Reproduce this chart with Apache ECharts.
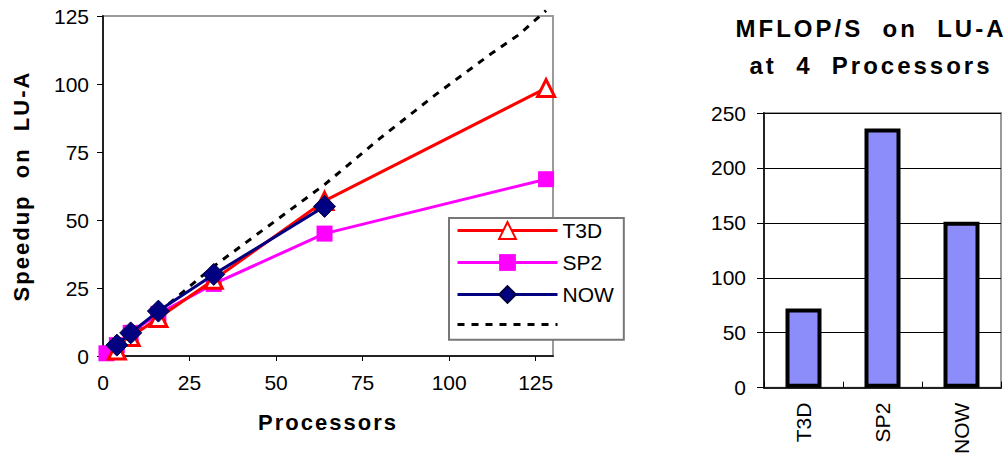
<!DOCTYPE html>
<html><head><meta charset="utf-8">
<script src="https://cdn.jsdelivr.net/npm/echarts@6/dist/echarts.min.js"></script>
<style>
html,body{margin:0;padding:0;background:#fff;}
#c{width:1008px;height:457px;}
#c text[style*="bold"]{letter-spacing:2px;}
#c text[style*="bold"][style*="24px"]{letter-spacing:3px;}
</style></head><body><div id="c"></div>
<script>
// ---- Data: Speedup on LU-A ----
const procT3D = [4, 8, 16, 32, 64, 128];
const speedT3D = [2, 7, 14, 28, 57, 98.5];
const procSP2 = [1, 4, 8, 16, 32, 64, 128];
const speedSP2 = [1, 4, 8.5, 15.5, 26.5, 45, 65];
const procNOW = [4, 8, 16, 32, 64];
const speedNOW = [4, 8.5, 16.5, 30, 55];
const procIdeal = [0, 8, 16, 32, 48, 64, 80, 96, 112, 120, 128];
const speedIdeal = [0, 8, 16, 33, 48, 63, 80, 96, 111, 118, 127];
const xTicks = [0, 25, 50, 75, 100, 125];
// ---- Data: MFLOP/S on LU-A at 4 processors ----
const machines = ['T3D', 'SP2', 'NOW'];
const mflops = [72, 236, 151];

const pairs = (xs, ys) => xs.map((x, i) => [x, ys[i]]);
const FONT = 'Liberation Sans, Arial, sans-serif';
const nb = '\u00a0';

const chart = echarts.init(document.getElementById('c'), null, {renderer: 'svg'});
chart.setOption({
  animation: false,
  backgroundColor: '#fff',
  textStyle: {fontFamily: FONT, color: '#000'},
  title: {
    text: 'MFLOP/S' + nb + ' on' + nb + ' LU-A\nat' + nb + ' 4' + nb + ' Processors',
    left: 866, top: 5, textAlign: 'center',
    textStyle: {fontFamily: FONT, fontSize: 24, fontWeight: 'bold', color: '#000', lineHeight: 37}
  },
  legend: {
    orient: 'vertical', left: 449, top: 218,
    padding: [2, 10, 7, 7],
    itemWidth: 100, itemHeight: 21, itemGap: 11,
    backgroundColor: '#fff', borderColor: '#777', borderWidth: 2, borderRadius: 0,
    data: ['T3D', 'SP2', 'NOW', {name: 'Ideal', itemStyle: {opacity: 0}}],
    formatter: n => n === 'Ideal' ? '' : n,
    textStyle: {fontFamily: FONT, fontSize: 21, color: '#000', lineHeight: 21},
    lineStyle: {width: 3},
    selectedMode: false
  },
  grid: [
    {left: 103, right: 455, top: 16, bottom: 101, show: true, borderColor: '#9a9a9a', borderWidth: 2, backgroundColor: '#fff'},
    {left: 764, right: 7, top: 113, bottom: 69, show: true, borderColor: '#9a9a9a', borderWidth: 2, backgroundColor: '#fff'}
  ],
  xAxis: [
    {
      type: 'value', gridIndex: 0, min: 0, max: 130, interval: 25,
      name: 'Processors', nameLocation: 'middle', nameGap: 55,
      nameTextStyle: {fontFamily: FONT, fontSize: 22, fontWeight: 'bold', color: '#000'},
      axisLine: {show: true, lineStyle: {color: '#222', width: 2}},
      axisTick: {show: true, length: 5, customValues: xTicks, lineStyle: {color: '#000'}},
      axisLabel: {fontFamily: FONT, fontSize: 21, color: '#000', margin: 16, customValues: xTicks},
      splitLine: {show: false}
    },
    {
      type: 'category', gridIndex: 1, data: machines,
      axisLine: {show: true, lineStyle: {color: '#222', width: 2}},
      axisTick: {show: true, inside: true, length: 6, lineStyle: {color: '#000'}},
      axisLabel: {fontFamily: FONT, fontSize: 21, color: '#000', rotate: 90, margin: 15}
    }
  ],
  yAxis: [
    {
      type: 'value', gridIndex: 0, min: 0, max: 125, interval: 25,
      name: 'Speedup' + nb + ' on' + nb + ' LU-A', nameLocation: 'middle', nameGap: 71,
      nameTextStyle: {fontFamily: FONT, fontSize: 22, fontWeight: 'bold', color: '#000'},
      axisLine: {show: true, lineStyle: {color: '#222', width: 2}},
      axisTick: {show: true, length: 6, lineStyle: {color: '#000'}},
      axisLabel: {fontFamily: FONT, fontSize: 21, color: '#000', margin: 14},
      splitLine: {show: false}
    },
    {
      type: 'value', gridIndex: 1, min: 0, max: 250, interval: 50,
      axisLine: {show: true, lineStyle: {color: '#222', width: 2}},
      axisTick: {show: true, length: 7, lineStyle: {color: '#000'}},
      axisLabel: {fontFamily: FONT, fontSize: 21, color: '#000', margin: 18},
      splitLine: {show: true, lineStyle: {color: '#000', width: 1}}
    }
  ],
  series: [
    {
      name: 'Ideal', type: 'line', xAxisIndex: 0, yAxisIndex: 0,
      data: pairs(procIdeal, speedIdeal), symbol: 'none', clip: false,
      lineStyle: {color: '#000', width: 3, type: [7, 7]},
      itemStyle: {color: '#000'}, z: 2
    },
    {
      name: 'SP2', type: 'line', xAxisIndex: 0, yAxisIndex: 0,
      data: pairs(procSP2, speedSP2), symbol: 'rect', symbolSize: 16, clip: false,
      lineStyle: {color: '#ff00ff', width: 3},
      itemStyle: {color: '#ff00ff'}, z: 3
    },
    {
      name: 'T3D', type: 'line', xAxisIndex: 0, yAxisIndex: 0,
      data: pairs(procT3D, speedT3D), symbol: 'triangle', symbolSize: 17, clip: false,
      lineStyle: {color: '#ff0000', width: 3},
      itemStyle: {color: '#fff', borderColor: '#ff0000', borderWidth: 3}, z: 4
    },
    {
      name: 'NOW', type: 'line', xAxisIndex: 0, yAxisIndex: 0,
      data: pairs(procNOW, speedNOW), symbol: 'diamond', symbolSize: 22, clip: false,
      lineStyle: {color: '#000080', width: 3},
      itemStyle: {color: '#000080', borderColor: '#000040', borderWidth: 1}, z: 5
    },
    {
      name: 'MFLOP/S', type: 'bar', xAxisIndex: 1, yAxisIndex: 1,
      data: mflops, barWidth: 36,
      itemStyle: {color: '#8c8cfa', borderColor: '#000', borderWidth: 4}
    }
  ]
});
</script></body></html>
